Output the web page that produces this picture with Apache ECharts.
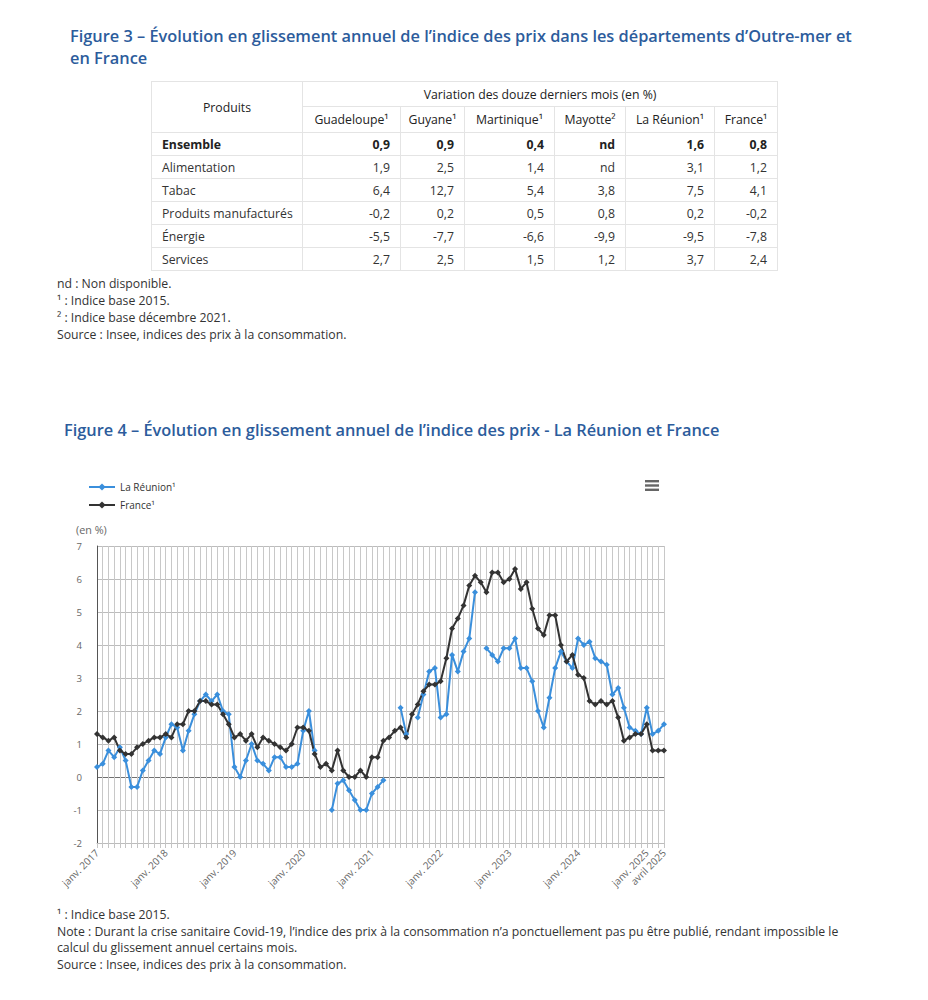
<!DOCTYPE html>
<html lang="fr">
<head>
<meta charset="utf-8">
<title>Indice des prix – DOM et France</title>
<script src="https://cdn.jsdelivr.net/npm/echarts@6/dist/echarts.min.js"></script>
<style>
html,body{margin:0;padding:0;background:#fff;}
body{width:928px;height:1000px;position:relative;overflow:hidden;font-family:"Open Sans",sans-serif;color:#333;}
.title{position:absolute;margin:0;color:#2c5c9c;font-weight:600;font-size:16.35px;line-height:17px;height:17px;white-space:nowrap;}
#t3a{left:70px;top:27.5px;}
#t3b{left:70px;top:50px;}
#t4{left:64px;top:422px;}
#tbl{position:absolute;left:151px;top:81px;border-collapse:collapse;table-layout:fixed;width:626px;font-size:12.25px;color:#333;}
#tbl th,#tbl td{border:1px solid #e4e4e4;padding:0;white-space:nowrap;}
#tbl th{font-weight:400;color:#222;text-align:center;}
#tbl td{text-align:right;padding-right:10px;}
#tbl td.lab{text-align:left;padding-left:10px;padding-right:0;}
#tbl tr.bold td{font-weight:700;color:#222;}
.notes{position:absolute;left:57px;margin:0;font-size:12.25px;line-height:17px;color:#333;white-space:nowrap;}
#n3{top:275px;}
#n4{top:907px;line-height:16.5px;}
#chart{position:absolute;left:0;top:460px;width:928px;height:450px;}
</style>
</head>
<body>
<div class="title" id="t3a">Figure 3 – Évolution en glissement annuel de l’indice des prix dans les départements d’Outre-mer et</div>
<div class="title" id="t3b">en France</div>
<table id="tbl"></table>
<div class="notes" id="n3">nd : Non disponible.<br>¹ : Indice base 2015.<br>² : Indice base décembre 2021.<br>Source : Insee, indices des prix à la consommation.</div>
<div class="title" id="t4">Figure 4 – Évolution en glissement annuel de l’indice des prix - La Réunion et France</div>
<div id="chart"></div>
<div class="notes" id="n4">¹ : Indice base 2015.<br>Note : Durant la crise sanitaire Covid-19, l’indice des prix à la consommation n’a ponctuellement pas pu être publié, rendant impossible le<br>calcul du glissement annuel certains mois.<br>Source : Insee, indices des prix à la consommation.</div>
<script>
// ---------- Figure 3 : table data ----------
const tableRegions = ['Guadeloupe¹', 'Guyane¹', 'Martinique¹', 'Mayotte²', 'La Réunion¹', 'France¹'];
const tableProducts = ['Ensemble', 'Alimentation', 'Tabac', 'Produits manufacturés', 'Énergie', 'Services'];
const rowEnsemble     = ['0,9', '0,9', '0,4', 'nd', '1,6', '0,8'];
const rowAlimentation = ['1,9', '2,5', '1,4', 'nd', '3,1', '1,2'];
const rowTabac        = ['6,4', '12,7', '5,4', '3,8', '7,5', '4,1'];
const rowManufactures = ['-0,2', '0,2', '0,5', '0,8', '0,2', '-0,2'];
const rowEnergie      = ['-5,5', '-7,7', '-6,6', '-9,9', '-9,5', '-7,8'];
const rowServices     = ['2,7', '2,5', '1,5', '1,2', '3,7', '2,4'];

// ---------- Figure 4 : chart data ----------
const monthNames = ['janv.', 'févr.', 'mars', 'avril', 'mai', 'juin', 'juil.', 'août', 'sept.', 'oct.', 'nov.', 'déc.'];
const firstYear = 2017, lastYear = 2025, lastMonthCount = 4;
const seriesNames = ['La Réunion¹', 'France¹'];
const reunion = [
  0.3, 0.4, 0.8, 0.6, 0.9, 0.5, -0.3, -0.3, 0.2, 0.5, 0.8, 0.7,      // 2017
  1.2, 1.6, 1.5, 0.8, 1.4, 1.9, 2.3, 2.5, 2.3, 2.5, 2.0, 1.9,        // 2018
  0.3, 0.0, 0.5, 1.0, 0.5, 0.4, 0.2, 0.6, 0.6, 0.3, 0.3, 0.4,        // 2019
  1.4, 2.0, 0.8, null, null, -1.0, -0.2, -0.1, -0.4, -0.7, -1.0, -1.0, // 2020
  -0.5, -0.3, -0.1, null, null, 2.1, 1.3, null, 1.8, 2.5, 3.2, 3.3,  // 2021
  1.8, 1.9, 3.7, 3.2, 3.8, 4.2, 5.6, null, 3.9, 3.7, 3.5, 3.9,       // 2022
  3.9, 4.2, 3.3, 3.3, 2.9, 2.0, 1.5, 2.4, 3.3, 3.8, 3.5, 3.3,        // 2023
  4.2, 4.0, 4.1, 3.6, 3.5, 3.4, 2.5, 2.7, 2.1, 1.5, 1.4, 1.3,        // 2024
  2.1, 1.3, 1.4, 1.6                                                 // 2025
];
const france = [
  1.3, 1.2, 1.1, 1.2, 0.8, 0.7, 0.7, 0.9, 1.0, 1.1, 1.2, 1.2,        // 2017
  1.3, 1.2, 1.6, 1.6, 2.0, 2.0, 2.3, 2.3, 2.2, 2.2, 1.9, 1.6,        // 2018
  1.2, 1.3, 1.1, 1.3, 0.9, 1.2, 1.1, 1.0, 0.9, 0.8, 1.0, 1.5,        // 2019
  1.5, 1.4, 0.7, 0.3, 0.4, 0.2, 0.8, 0.2, 0.0, 0.0, 0.2, 0.0,        // 2020
  0.6, 0.6, 1.1, 1.2, 1.4, 1.5, 1.2, 1.9, 2.2, 2.6, 2.8, 2.8,        // 2021
  2.9, 3.6, 4.5, 4.8, 5.2, 5.8, 6.1, 5.9, 5.6, 6.2, 6.2, 5.9,        // 2022
  6.0, 6.3, 5.7, 5.9, 5.1, 4.5, 4.3, 4.9, 4.9, 4.0, 3.5, 3.7,        // 2023
  3.1, 3.0, 2.3, 2.2, 2.3, 2.2, 2.3, 1.8, 1.1, 1.2, 1.3, 1.3,        // 2024
  1.6, 0.8, 0.8, 0.8                                                 // 2025
];
const yMin = -2, yMax = 7, yStep = 1;
const yAxisTitle = '(en %)';

// ---------- build table ----------
(function () {
  const tbl = document.getElementById('tbl');
  const widths = [151, 98, 64, 90, 71, 89, 63];
  let html = '<colgroup>' + widths.map(w => '<col style="width:' + w + 'px">').join('') + '</colgroup>';
  html += '<tr style="height:25px"><th rowspan="2">Produits</th><th colspan="6">Variation des douze derniers mois (en %)</th></tr>';
  html += '<tr style="height:26px">' + tableRegions.map(r => '<th>' + r + '</th>').join('') + '</tr>';
  const rows = [rowEnsemble, rowAlimentation, rowTabac, rowManufactures, rowEnergie, rowServices];
  rows.forEach((vals, i) => {
    html += '<tr style="height:23px"' + (i === 0 ? ' class="bold"' : '') + '><td class="lab">' + tableProducts[i] + '</td>' +
      vals.map(v => '<td>' + v + '</td>').join('') + '</tr>';
  });
  tbl.innerHTML = html;
})();

// ---------- build chart ----------
const categories = [];
for (let y = firstYear; y <= lastYear; y++) {
  for (let m = 0; m < 12; m++) {
    if (y === lastYear && m >= lastMonthCount) break;
    categories.push(monthNames[m] + ' ' + y);
  }
}
const lastIdx = categories.length - 1;
const showLabel = (idx) => idx % 12 === 0 || idx === lastIdx;

const splitColors = [];
for (let v = yMin; v <= yMax; v += yStep) splitColors.push(v === 0 ? '#707070' : '#bcbcbc');

const chart = echarts.init(document.getElementById('chart'), null, { renderer: 'svg' });
const font = '"Open Sans", sans-serif';
chart.setOption({
  animation: false,
  textStyle: { fontFamily: font },
  legend: {
    data: seriesNames,
    orient: 'vertical',
    left: 88, top: 22, padding: 0,
    itemWidth: 26, itemHeight: 9, itemGap: 8,
    selectedMode: false,
    textStyle: { fontSize: 10, color: '#333', fontFamily: font }
  },
  grid: { left: 97, right: 264, top: 86, bottom: 67, containLabel: false },
  xAxis: {
    type: 'category',
    data: categories,
    boundaryGap: false,
    axisLine: { show: true, onZero: false, lineStyle: { color: '#bcbcbc' } },
    axisTick: { show: true, interval: 0, length: 5, lineStyle: { color: '#c4c4c4' } },
    axisLabel: { interval: (idx) => showLabel(idx), rotate: 45, margin: 8, color: '#666', fontSize: 10, fontFamily: font },
    splitLine: { show: true, interval: 0, lineStyle: { color: '#c8c8c8', width: 1 } }
  },
  yAxis: {
    type: 'value',
    min: yMin, max: yMax, interval: yStep,
    axisLine: { show: true, lineStyle: { color: '#555' } },
    axisTick: { show: false },
    axisLabel: { color: '#666', fontSize: 9.6, margin: 15, fontFamily: font },
    splitLine: { show: true, lineStyle: { color: splitColors, width: 1 } }
  },
  graphic: [
    { type: 'text', left: 76, top: 64, style: { text: yAxisTitle, fill: '#666', font: '10.8px ' + font } },
    {
      type: 'group', left: 645, top: 20,
      children: [
        { type: 'rect', shape: { x: 0, y: 0, width: 14, height: 2.4 }, style: { fill: '#666' } },
        { type: 'rect', shape: { x: 0, y: 4.3, width: 14, height: 2.4 }, style: { fill: '#666' } },
        { type: 'rect', shape: { x: 0, y: 8.6, width: 14, height: 2.4 }, style: { fill: '#666' } }
      ]
    }
  ],
  series: [
    {
      name: seriesNames[0], type: 'line', data: reunion, connectNulls: false,
      symbol: 'diamond', symbolSize: 6, showAllSymbol: true,
      lineStyle: { width: 2, color: '#3a8fdc' }, itemStyle: { color: '#3a8fdc' },
      emphasis: { disabled: true }
    },
    {
      name: seriesNames[1], type: 'line', data: france, connectNulls: false,
      symbol: 'diamond', symbolSize: 6, showAllSymbol: true,
      lineStyle: { width: 2, color: '#333' }, itemStyle: { color: '#333' },
      emphasis: { disabled: true }
    }
  ]
});
</script>
</body>
</html>
